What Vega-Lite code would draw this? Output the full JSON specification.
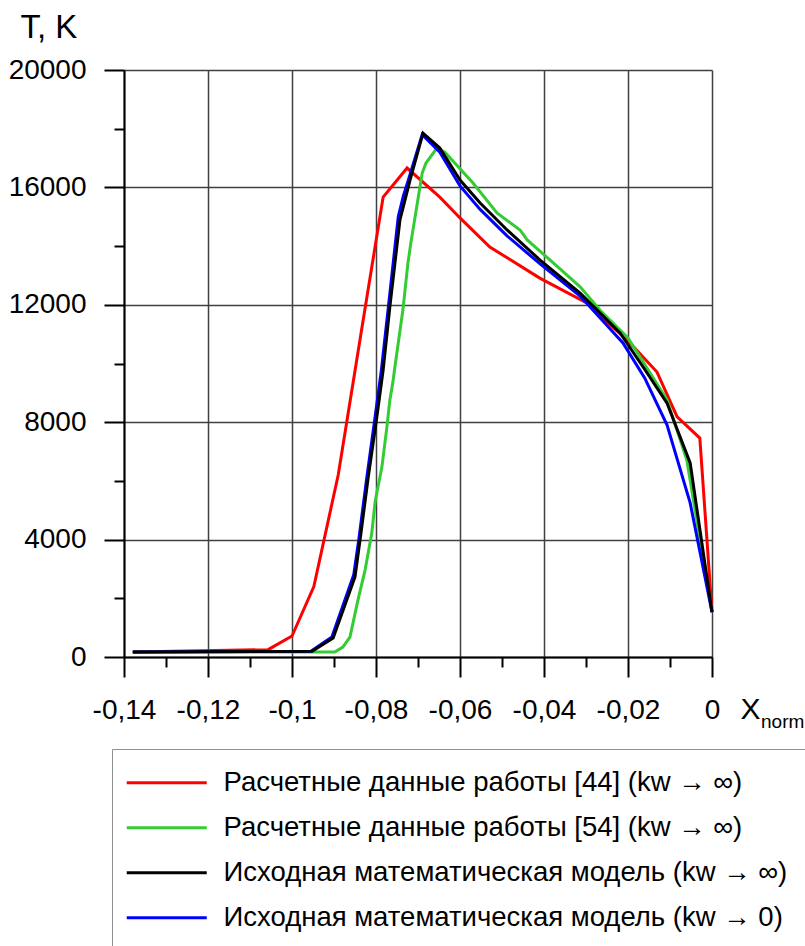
{
  "$schema": "https://vega.github.io/schema/vega-lite/v6.json",
  "width": 588,
  "height": 587,
  "autosize": {"type": "none"},
  "padding": {"left": 124, "top": 70, "right": 93, "bottom": 289},
  "background": "white",
  "config": {
    "view": {"stroke": null},
    "font": "Liberation Sans",
    "axis": {
      "domainColor": "#000000",
      "domainWidth": 2,
      "tickColor": "#000000",
      "tickWidth": 2,
      "gridColor": "#404040",
      "gridWidth": 1.5,
      "labelFont": "Liberation Sans",
      "labelFontSize": 28,
      "labelColor": "#000000",
      "labelOverlap": false,
      "labelBound": false,
      "labelFlush": false,
      "titleFont": "Liberation Sans",
      "titleFontWeight": "normal",
      "titleColor": "#000000"
    }
  },
  "data": {
    "values": [
      {"s": "a", "x": -0.1379, "t": 170}, {"s": "a", "x": -0.1057, "t": 250}, {"s": "a", "x": -0.1, "t": 715}, {"s": "a", "x": -0.0948, "t": 2400}, {"s": "a", "x": -0.089, "t": 6200}, {"s": "a", "x": -0.0836, "t": 11000}, {"s": "a", "x": -0.0783, "t": 15670}, {"s": "a", "x": -0.0726, "t": 16660}, {"s": "a", "x": -0.0648, "t": 15670}, {"s": "a", "x": -0.06, "t": 14960}, {"s": "a", "x": -0.0529, "t": 13970}, {"s": "a", "x": -0.041, "t": 12910}, {"s": "a", "x": -0.0298, "t": 12060}, {"s": "a", "x": -0.0195, "t": 10700}, {"s": "a", "x": -0.0131, "t": 9710}, {"s": "a", "x": -0.0083, "t": 8180}, {"s": "a", "x": -0.0029, "t": 7460}, {"s": "a", "x": 0, "t": 1530},
      {"s": "b", "x": -0.1379, "t": 170}, {"s": "b", "x": -0.0898, "t": 170}, {"s": "b", "x": -0.0879, "t": 340}, {"s": "b", "x": -0.0862, "t": 680}, {"s": "b", "x": -0.0843, "t": 1940}, {"s": "b", "x": -0.0826, "t": 2960}, {"s": "b", "x": -0.081, "t": 4220}, {"s": "b", "x": -0.0802, "t": 5300}, {"s": "b", "x": -0.0786, "t": 6470}, {"s": "b", "x": -0.0774, "t": 7840}, {"s": "b", "x": -0.0767, "t": 8760}, {"s": "b", "x": -0.076, "t": 9340}, {"s": "b", "x": -0.0755, "t": 9880}, {"s": "b", "x": -0.0736, "t": 11820}, {"s": "b", "x": -0.0724, "t": 13420}, {"s": "b", "x": -0.0717, "t": 14110}, {"s": "b", "x": -0.0707, "t": 14990}, {"s": "b", "x": -0.069, "t": 16490}, {"s": "b", "x": -0.0681, "t": 16830}, {"s": "b", "x": -0.0655, "t": 17340}, {"s": "b", "x": -0.0636, "t": 17200}, {"s": "b", "x": -0.0569, "t": 16150}, {"s": "b", "x": -0.0512, "t": 15130}, {"s": "b", "x": -0.0457, "t": 14550}, {"s": "b", "x": -0.044, "t": 14210}, {"s": "b", "x": -0.0386, "t": 13530}, {"s": "b", "x": -0.0314, "t": 12610}, {"s": "b", "x": -0.0267, "t": 11820}, {"s": "b", "x": -0.02, "t": 10870}, {"s": "b", "x": -0.0107, "t": 8760}, {"s": "b", "x": -0.006, "t": 6710}, {"s": "b", "x": 0, "t": 1530},
      {"s": "c", "x": -0.1379, "t": 170}, {"s": "c", "x": -0.0955, "t": 200}, {"s": "c", "x": -0.0905, "t": 680}, {"s": "c", "x": -0.0853, "t": 2800}, {"s": "c", "x": -0.0841, "t": 4000}, {"s": "c", "x": -0.0822, "t": 6100}, {"s": "c", "x": -0.0802, "t": 8200}, {"s": "c", "x": -0.0787, "t": 9800}, {"s": "c", "x": -0.077, "t": 12000}, {"s": "c", "x": -0.0747, "t": 15000}, {"s": "c", "x": -0.0735, "t": 15700}, {"s": "c", "x": -0.0722, "t": 16300}, {"s": "c", "x": -0.069, "t": 17800}, {"s": "c", "x": -0.0648, "t": 17200}, {"s": "c", "x": -0.06, "t": 16050}, {"s": "c", "x": -0.0552, "t": 15250}, {"s": "c", "x": -0.0488, "t": 14350}, {"s": "c", "x": -0.041, "t": 13400}, {"s": "c", "x": -0.0314, "t": 12300}, {"s": "c", "x": -0.0212, "t": 10700}, {"s": "c", "x": -0.016, "t": 9500}, {"s": "c", "x": -0.0107, "t": 7900}, {"s": "c", "x": -0.0052, "t": 5250}, {"s": "c", "x": 0, "t": 1530},
      {"s": "d", "x": -0.1379, "t": 170}, {"s": "d", "x": -0.0952, "t": 200}, {"s": "d", "x": -0.0902, "t": 650}, {"s": "d", "x": -0.085, "t": 2730}, {"s": "d", "x": -0.0836, "t": 4200}, {"s": "d", "x": -0.0819, "t": 6070}, {"s": "d", "x": -0.0798, "t": 8180}, {"s": "d", "x": -0.0783, "t": 9780}, {"s": "d", "x": -0.0767, "t": 11930}, {"s": "d", "x": -0.0743, "t": 14890}, {"s": "d", "x": -0.0731, "t": 15570}, {"s": "d", "x": -0.0719, "t": 16250}, {"s": "d", "x": -0.0688, "t": 17850}, {"s": "d", "x": -0.0648, "t": 17340}, {"s": "d", "x": -0.06, "t": 16250}, {"s": "d", "x": -0.0552, "t": 15470}, {"s": "d", "x": -0.0488, "t": 14550}, {"s": "d", "x": -0.041, "t": 13530}, {"s": "d", "x": -0.0314, "t": 12400}, {"s": "d", "x": -0.0219, "t": 11040}, {"s": "d", "x": -0.0164, "t": 9880}, {"s": "d", "x": -0.0107, "t": 8650}, {"s": "d", "x": -0.0052, "t": 6610}, {"s": "d", "x": 0, "t": 1530}
    ]
  },
  "layer": [
    {
      "mark": {"type": "line", "strokeWidth": 3, "clip": false},
      "encoding": {
        "x": {
          "field": "x",
          "type": "quantitative",
          "scale": {"domain": [-0.14, 0], "nice": false, "zero": false},
          "axis": {
            "values": [-0.14, -0.13, -0.12, -0.11, -0.1, -0.09, -0.08, -0.07, -0.06, -0.05, -0.04, -0.03, -0.02, -0.01, 0],
            "tickSize": {"condition": {"test": "round(datum.value*100) % 2 === 0", "value": 20}, "value": 10},
            "gridOpacity": {"condition": {"test": "round(datum.value*100) % 2 === 0", "value": 1}, "value": 0},
            "grid": true,
            "labelExpr": "round(datum.value*100) % 2 === 0 ? replace(replace(format(datum.value, '.2~f'), '−', '-'), '.', ',') : ''",
            "labelBaseline": "alphabetic",
            "labelPadding": 41,
            "title": "X",
            "titleFontSize": 30,
            "titleAlign": "left",
            "titleBaseline": "alphabetic",
            "titleX": 616,
            "titleY": 61
          }
        },
        "y": {
          "field": "t",
          "type": "quantitative",
          "scale": {"domain": [0, 20000], "nice": false},
          "axis": {
            "values": [0, 2000, 4000, 6000, 8000, 10000, 12000, 14000, 16000, 18000, 20000],
            "tickSize": {"condition": {"test": "datum.value % 4000 === 0", "value": 20}, "value": 10},
            "gridOpacity": {"condition": {"test": "datum.value % 4000 === 0", "value": 1}, "value": 0},
            "grid": true,
            "labelExpr": "datum.value % 4000 === 0 ? format(datum.value, 'd') : ''",
            "labelPadding": 18,
            "title": "T, K",
            "titleFontSize": 33,
            "titleAngle": 0,
            "titleAlign": "left",
            "titleBaseline": "alphabetic",
            "titleX": -104,
            "titleY": -33
          }
        },
        "color": {
          "field": "s",
          "type": "nominal",
          "scale": {"domain": ["a", "b", "d", "c"], "range": ["#ff0000", "#33cc33", "#000000", "#0000ff"]},
          "legend": {
            "title": null,
            "orient": "none",
            "legendX": -12,
            "legendY": 679,
            "direction": "vertical",
            "padding": 20,
            "strokeColor": "#909090",
            "fillColor": "white",
            "symbolType": "M-1.9,0H6.1",
            "symbolSize": 400,
            "symbolStrokeWidth": 3,
            "labelOffset": 64,
            "labelFontSize": 27.5,
            "labelFont": "Liberation Sans",
            "labelColor": "#000000",
            "labelLimit": 1000,
            "rowPadding": 16,
            "labelExpr": "datum.label === 'a' ? 'Расчетные данные работы [44] (kw → ∞)' : datum.label === 'b' ? 'Расчетные данные работы [54] (kw → ∞)' : datum.label === 'd' ? 'Исходная математическая модель (kw → ∞)' : 'Исходная математическая модель (kw → 0)'"
          }
        }
      }
    },
    {
      "data": {"values": [{"label": "norm"}]},
      "mark": {"type": "text", "align": "left", "baseline": "alphabetic", "fontSize": 19, "font": "Liberation Sans", "color": "#000000", "dx": 49, "dy": 71, "clip": false},
      "encoding": {
        "text": {"field": "label"},
        "x": {"datum": 0},
        "y": {"datum": 0}
      }
    }
  ]
}
